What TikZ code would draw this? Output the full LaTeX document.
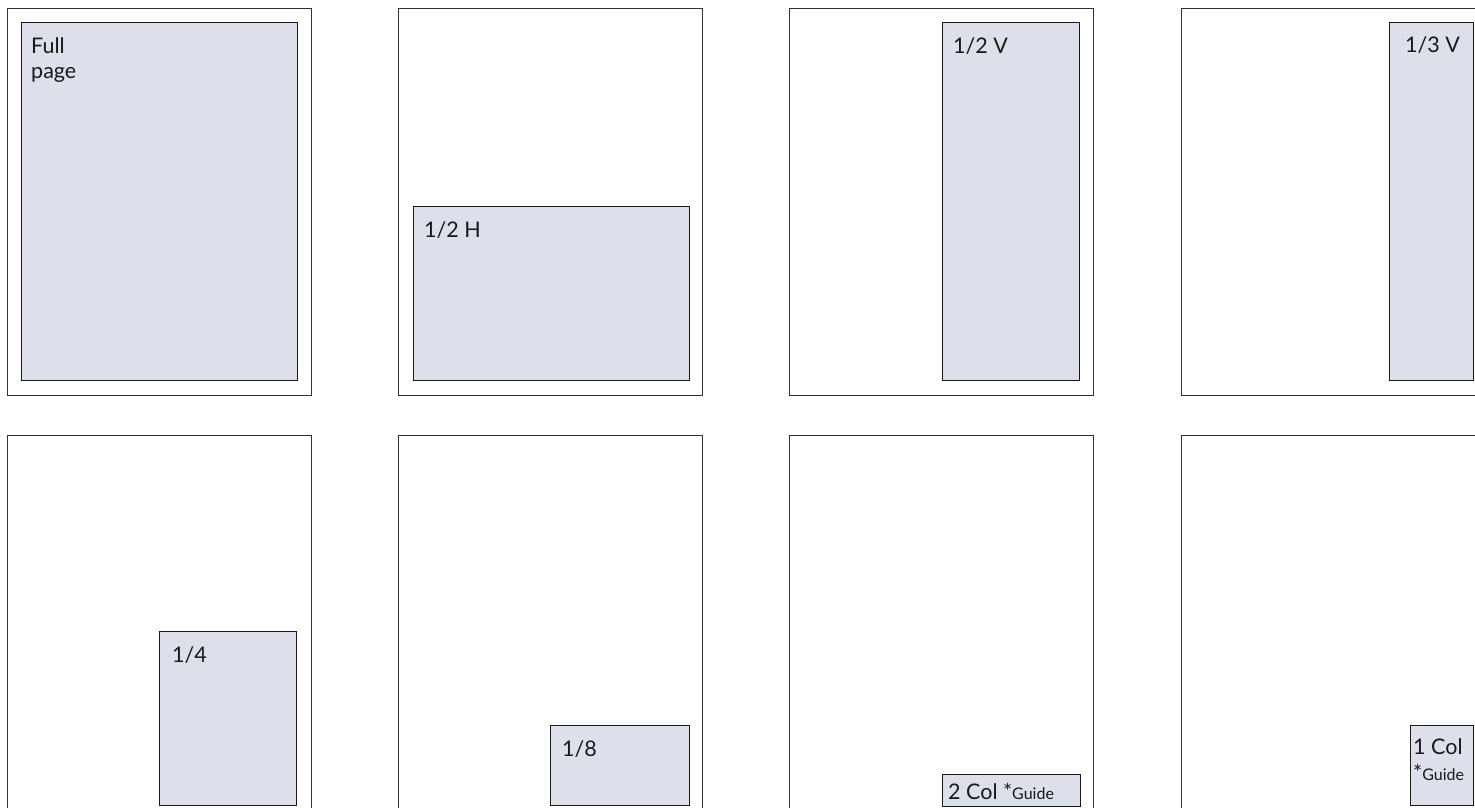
\documentclass[tikz,border=0pt]{standalone}
\usepackage{fontspec}
\setmainfont{Lato}
\newcommand{\guidesize}{\fontsize{16}{19}\selectfont}
\begin{document}
\begin{tikzpicture}[x=1pt,y=-1pt,
  page/.style={draw=black!80,line width=1.3pt,fill=white,anchor=north west,inner sep=0pt,minimum width=304pt,minimum height=387pt},
  adbox/.style={draw=black!90,line width=1.3pt,fill=adfill,anchor=north west,inner sep=0pt},
  lbl/.style={anchor=base west,inner sep=0pt,font=\fontsize{21.5}{25}\selectfont,text=black!90}]
\definecolor{adfill}{HTML}{DDDFEA}
\useasboundingbox (0,0) rectangle (1475,807);
\clip (0,0) rectangle (1475,807);
% top row pages
\node[page] (p1) at (7,8) {};
\node[page] (p2) at (398,8) {};
\node[page] (p3) at (789,8) {};
\node[page] (p4) at (1181,8) {};
% bottom row pages
\node[page] (p5) at (7,435) {};
\node[page] (p6) at (398,435) {};
\node[page] (p7) at (789,435) {};
\node[page] (p8) at (1181,435) {};
% ad boxes
\node[adbox,minimum width=276pt,minimum height=358pt] (a1) at (21,22) {};
\node[adbox,minimum width=276pt,minimum height=174pt] (a2) at (413,206) {};
\node[adbox,minimum width=137pt,minimum height=358pt] (a3) at (942,22) {};
\node[adbox,minimum width=84pt,minimum height=358pt] (a4) at (1389,22) {};
\node[adbox,minimum width=137pt,minimum height=174pt] (a5) at (159,631) {};
\node[adbox,minimum width=139pt,minimum height=80pt] (a6) at (550,725) {};
\node[adbox,minimum width=138pt,minimum height=32pt] (a7) at (942,774) {};
\node[adbox,minimum width=63pt,minimum height=80pt] (a8) at (1410,725) {};
% labels
\node[lbl] (t1) at (31,53) {Full};
\node[lbl] (t1b) at (31,78) {page};
\node[lbl] (t2) at (424,237) {1/2 H};
\node[lbl] (t3) at (953,53) {1/2 V};
\node[lbl] (t4) at (1405,52) {1/3 V};
\node[lbl] (t5) at (172,662) {1/4};
\node[lbl] (t6) at (562,756) {1/8};
\node[lbl] (t7) at (948,799) {2 Col *{\guidesize Guide}};
\node[lbl] (t8) at (1413,754) {1 Col};
\node[lbl] (t8b) at (1413,780) {*{\guidesize Guide}};
\end{tikzpicture}
\end{document}
